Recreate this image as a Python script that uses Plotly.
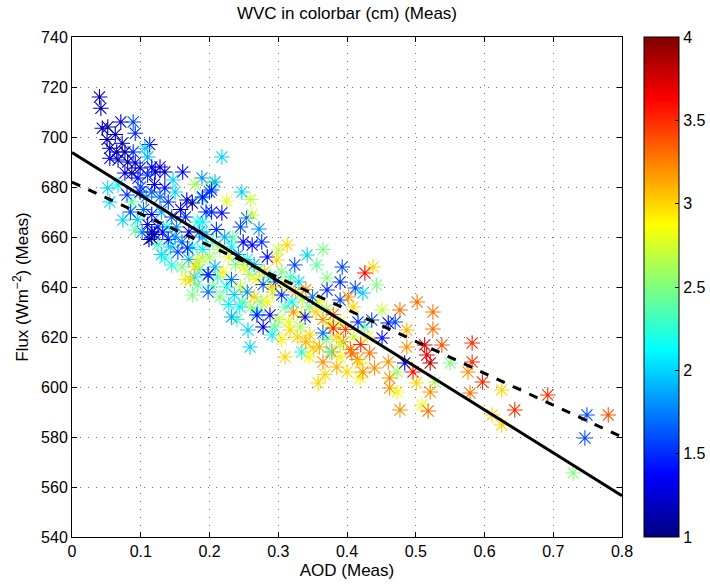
import plotly.graph_objects as go

# (AOD, Flux, WVC)
pts = [
(0.040,716,1.15),(0.042,711.5,1.15),(0.044,703.5,1.2),(0.052,704,1.1),(0.071,706,1.3),(0.089,706,1.6),
(0.092,701.5,1.5),(0.051,699,1.1),(0.063,701,1.2),(0.073,697.5,1.1),(0.055,695.5,1.15),(0.065,694,1.2),
(0.077,694,1.1),(0.089,694,1.5),(0.113,697,1.4),(0.106,695.5,2.0),(0.110,692,1.9),(0.055,691.5,1.3),
(0.067,690.8,1.2),(0.081,690,1.1),(0.092,689.6,1.3),(0.099,687.6,1.2),(0.116,688,1.4),(0.128,688,1.3),
(0.135,686,1.2),(0.161,686,1.4),(0.189,683.6,1.8),(0.077,685.6,1.3),(0.087,685.6,1.1),(0.096,683.6,1.4),
(0.110,684.8,1.5),(0.121,686,1.2),(0.147,682.8,2.0),(0.179,681,2.6),(0.204,681.6,2.5),(0.052,679.6,2.0),
(0.067,680.8,2.1),(0.055,674,2.0),(0.080,676.8,1.5),(0.087,674,2.4),(0.099,678,1.3),(0.116,678,1.6),
(0.135,679.6,1.4),(0.150,678,2.0),(0.167,674.8,1.3),(0.175,673.6,1.1),(0.189,675.6,2.0),(0.200,678,1.6),
(0.100,680,1.6),(0.108,676,1.8),(0.120,681,1.3),(0.128,676,1.7),(0.140,674,1.5),(0.104,671,1.7),
(0.116,669,1.4),(0.130,670,1.9),(0.145,668,1.6),(0.158,671,1.2),(0.110,665,1.3),(0.125,664,1.5),
(0.138,664,2.1),(0.152,664,1.8),(0.165,668,1.5),(0.170,662,1.3),(0.182,666,2.2),(0.195,670,1.5),
(0.095,667,2.0),(0.085,670,1.6),(0.120,661,1.2),(0.112,659,1.2),(0.140,659,1.4),(0.125,657,2.3),
(0.160,658,1.7),(0.175,656,2.2),(0.190,660,1.9),(0.185,662,1.6),(0.102,662,1.7),(0.130,653,2.0),
(0.218,692,2.0),(0.208,682,1.9),(0.203,678.8,1.5),(0.190,676,1.4),(0.247,678,2.0),(0.225,674.4,2.8),
(0.260,675,2.7),(0.203,670,1.5),(0.218,669.6,1.4),(0.254,667.6,1.7),(0.262,668.8,2.7),(0.190,666,2.1),
(0.272,663.2,1.8),(0.245,664,1.6),(0.313,656.8,3.0),(0.365,655,2.5),(0.342,652.8,2.0),(0.356,648.8,2.4),
(0.324,648.8,1.6),(0.262,656.8,1.4),(0.276,658,1.5),(0.249,658,1.3),(0.234,659.6,2.4),(0.300,654.8,2.7),
(0.284,652,1.4),(0.298,650.8,3.0),
(0.195,661,2.0),(0.205,658,2.3),(0.210,663,1.5),(0.215,655,2.6),(0.222,660,1.9),(0.228,652,2.8),
(0.232,656,2.1),(0.238,649,2.5),(0.242,653,1.8),(0.250,648,2.9),(0.255,651,2.2),(0.258,645,2.6),
(0.265,649,1.9),(0.268,643,2.9),(0.272,647,2.4),(0.278,641,1.6),(0.280,646,3.0),(0.288,644,2.1),
(0.292,638,2.7),(0.296,642,1.5),(0.200,652,2.6),(0.208,648,1.9),(0.212,644,2.3),(0.220,646,2.9),
(0.225,640,2.2),(0.232,643,1.7),(0.236,637,2.0),(0.245,640,2.7),(0.248,634,2.4),(0.255,638,1.8),
(0.260,632,2.6),(0.265,636,3.0),(0.270,630,2.2),(0.275,634,2.5),(0.185,647,2.3),(0.190,655,2.1),
(0.170,651,1.9),(0.160,648,2.5),(0.178,644,2.0),(0.198,645,1.6),(0.165,643,2.8),(0.215,636,2.5),
(0.228,633,2.1),(0.205,640,2.4),(0.240,627,2.3),(0.232,628,1.9),
(0.172,642.8,3.0),(0.175,636.8,2.5),(0.198,638,1.7),(0.135,651.6,2.2),(0.145,648.8,2.2),(0.259,616,2.0),
(0.256,622.8,2.0),(0.269,628.8,1.4),(0.288,628.8,1.4),(0.291,620.8,2.1),(0.334,614,2.2),(0.317,622.8,3.0),
(0.346,620.8,3.0),(0.278,624,1.3),(0.244,632,2.1),(0.284,634,2.9),(0.291,640,3.0),(0.305,636.8,1.5),
(0.322,630,3.2),(0.334,628.8,2.9),(0.339,628,1.4),(0.351,615.6,3.0),(0.358,601.6,3.0),
(0.074,666.8,2.0),(0.092,662.8,2.4),(0.116,662,1.2),(0.116,659.6,1.1),(0.132,662,1.4),(0.150,660,1.8),
(0.143,656,2.0),(0.154,654,1.6),(0.168,655.6,1.5),(0.182,650,2.7),(0.179,648,3.0),(0.189,651.6,2.7),
(0.198,644.8,1.5),(0.183,640.8,2.4),
(0.305,646,2.5),(0.310,641,2.9),(0.318,644,2.3),(0.325,638,3.1),(0.330,642,2.0),(0.335,635,2.7),
(0.340,639,3.2),(0.345,632,2.5),(0.350,636,1.7),(0.355,630,3.0),(0.360,634,2.8),(0.365,627,3.2),
(0.370,631,2.6),(0.375,625,2.9),(0.380,629,3.3),(0.385,620,3.0),(0.390,626,2.8),(0.395,618,3.2),
(0.398,623,3.4),(0.310,632,2.4),(0.315,626,2.8),(0.320,634,2.1),(0.328,620,3.0),(0.332,624,2.6),
(0.340,618,3.1),(0.345,612,2.9),(0.360,616,3.1),(0.365,610,3.2),(0.370,619,2.5),(0.378,614,3.3),
(0.385,608,3.1),(0.390,612,2.9),(0.300,627,2.7),(0.295,624,2.4),(0.305,619,2.9),(0.310,612,3.0),
(0.400,606,3.0),(0.405,615,3.3),(0.410,620,2.7),(0.415,611,3.2),(0.420,617,3.5),(0.430,620,2.9),
(0.425,624,2.4),
(0.393,648,1.6),(0.438,648,3.0),(0.426,645.6,3.6),(0.443,640.8,2.5),(0.390,642,1.5),(0.412,639.6,1.6),
(0.423,637.6,2.0),(0.371,643.6,2.5),(0.371,638.8,1.5),(0.390,634.8,1.6),(0.402,636,3.2),(0.409,632,3.0),
(0.502,634,3.3),(0.477,630.8,3.3),(0.451,630.8,2.7),(0.525,630,3.3),(0.525,623.2,3.3),(0.416,626,1.5),
(0.460,625.6,1.3),(0.470,626,1.6),(0.436,626.8,1.6),(0.451,619.6,1.4),(0.487,622.8,3.1),(0.487,616,3.2),
(0.513,616.8,3.7),(0.538,616.8,3.4),(0.380,623.6,3.5),(0.365,621.6,1.7),
(0.582,617.6,3.5),(0.516,612.8,3.7),(0.521,609.6,3.8),(0.550,609.6,2.5),(0.582,610,3.5),(0.576,606,3.2),
(0.484,609.6,1.3),(0.496,606,3.6),(0.528,602,2.6),(0.501,601.6,3.0),(0.521,598,3.2),(0.579,597.6,3.3),
(0.509,592.8,2.8),(0.518,590.4,3.3),(0.477,590.8,3.2),(0.375,614,2.4),(0.407,613.6,3.3),(0.433,613.6,3.3),
(0.368,605,3.0),(0.419,603.6,2.9),(0.423,606,3.2),(0.440,607.6,3.2),(0.462,603.6,3.2),(0.473,606,2.6),
(0.462,599.6,3.2),(0.473,598,2.9),(0.460,610,3.2),(0.390,616.8,2.7),(0.419,609.6,3.0),
(0.597,602,3.5),(0.625,598.8,3.0),(0.692,596.8,3.5),(0.644,590.8,3.5),(0.611,588.8,3.0),(0.625,584.8,3.0),
(0.749,588.8,1.6),(0.780,588.8,3.4),(0.746,579.6,1.6),(0.729,565.6,2.5),
]
aod = [p[0] for p in pts]
flux = [p[1] for p in pts]
wvc = [p[2] for p in pts]

# fitted lines (endpoints)
line_x = [0.0, 0.8]
fit_solid = [693.8, 556.5]
fit_dashed = [682.0, 580.0]

xticks = [0, 0.1, 0.2, 0.3, 0.4, 0.5, 0.6, 0.7, 0.8]
xticklabels = ["0", "0.1", "0.2", "0.3", "0.4", "0.5", "0.6", "0.7", "0.8"]
yticks = list(range(540, 741, 20))
cticks = [1, 1.5, 2, 2.5, 3, 3.5, 4]
cticklabels = ["1", "1.5", "2", "2.5", "3", "3.5", "4"]

jet = [[0.0, "rgb(0,0,128)"], [0.125, "rgb(0,0,255)"], [0.375, "rgb(0,255,255)"],
       [0.625, "rgb(255,255,0)"], [0.875, "rgb(255,0,0)"], [1.0, "rgb(128,0,0)"]]

FONT = "Liberation Sans, Arial, Helvetica, sans-serif"

fig = go.Figure()
fig.add_trace(go.Scatter(
    x=aod, y=flux, mode="markers",
    marker=dict(symbol="asterisk-open", size=13, color=wvc, colorscale=jet, cmin=1, cmax=4,
                line=dict(width=1.1),
                colorbar=dict(x=1.04, xanchor="left", xref="paper", y=0.5, yanchor="middle",
                              len=1.0, lenmode="fraction", thickness=35, thicknessmode="pixels",
                              xpad=0, ypad=0, outlinewidth=1, outlinecolor="black",
                              tickvals=cticks, ticktext=cticklabels, ticks="inside", ticklen=4,
                              tickcolor="black", tickfont=dict(family=FONT, size=16, color="black"))),
    showlegend=False, hoverinfo="skip"))
fig.add_trace(go.Scatter(x=line_x, y=fit_solid, mode="lines",
                         line=dict(color="black", width=3), showlegend=False))
fig.add_trace(go.Scatter(x=line_x, y=fit_dashed, mode="lines",
                         line=dict(color="black", width=3, dash="dash"), showlegend=False))

axis_common = dict(showline=True, linecolor="black", linewidth=1, mirror="ticks",
                   ticks="inside", ticklen=5, tickcolor="black",
                   showgrid=True, gridcolor="rgb(110,110,110)", griddash="1px,7px", gridwidth=1,
                   zeroline=False, tickfont=dict(family=FONT, size=16, color="black"))

fig.update_layout(
    width=710, height=584,
    margin=dict(l=72, r=88, t=37, b=47, autoexpand=False),
    paper_bgcolor="white", plot_bgcolor="white",
    title=dict(text="WVC in colorbar (cm) (Meas)", x=0.5, xref="paper", y=1 - 13/584,
               yanchor="middle", font=dict(family=FONT, size=17, color="black")),
    xaxis=dict(range=[0, 0.8], tickvals=xticks, ticktext=xticklabels,
               title=dict(text="AOD (Meas)", font=dict(family=FONT, size=17, color="black"), standoff=4),
               **axis_common),
    yaxis=dict(range=[540, 740], tickvals=yticks,
               title=dict(text="Flux (Wm<sup>−2</sup>) (Meas)", font=dict(family=FONT, size=17, color="black"), standoff=8),
               **axis_common),
)

fig.write_html("out.html")
